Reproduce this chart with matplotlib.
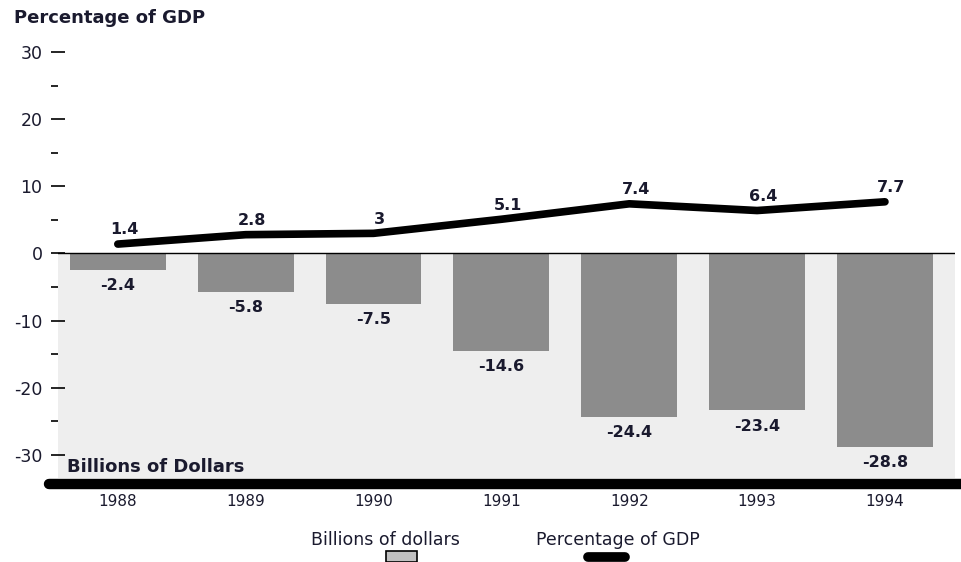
import matplotlib
matplotlib.use("Agg")
import matplotlib.pyplot as plt
from matplotlib.ticker import MultipleLocator

# data
years = ["1988", "1989", "1990", "1991", "1992", "1993", "1994"]
billions = [-2.4, -5.8, -7.5, -14.6, -24.4, -23.4, -28.8]
pct_gdp = [1.4, 2.8, 3, 5.1, 7.4, 6.4, 7.7]
pct_labels = ["1.4", "2.8", "3", "5.1", "7.4", "6.4", "7.7"]

plt.rcParams["font.family"] = ["DejaVu Sans"]
plt.rcParams["axes.unicode_minus"] = False
txt = "#1a1a2e"

fig = plt.figure(figsize=(9.62, 5.62), dpi=100)
ax = fig.add_axes([0.060, 0.149, 0.933, 0.794])

x = list(range(len(years)))
ax.set_xlim(-0.47, 6.55)
ax.set_ylim(-33.5, 33)

# grey panel below zero
ax.axhspan(-33.5, 0, color="#eeeeee", zorder=0)
ax.axhline(0, color="black", lw=1, zorder=3)

ax.bar(x, billions, width=0.75, color="#8c8c8c", zorder=2)
ax.plot(x, pct_gdp, color="black", lw=5.5, solid_capstyle="round", zorder=4)

for xi, v in zip(x, billions):
    ax.text(xi, v - 1.2, f"{v:g}", ha="center", va="top", fontsize=11.5,
            fontweight="bold", color=txt)
for xi, v, s in zip(x, pct_gdp, pct_labels):
    ax.text(xi + 0.05, v + 1.0, s, ha="center", va="bottom", fontsize=11.5,
            fontweight="bold", color=txt)

ax.text(-0.4, -31.8, "Billions of Dollars", ha="left", va="center",
        fontsize=13, fontweight="bold", color=txt)

for s in ax.spines.values():
    s.set_visible(False)

ax.yaxis.set_major_locator(MultipleLocator(10))
ax.yaxis.set_minor_locator(MultipleLocator(5))
ax.tick_params(axis="y", which="major", direction="inout", length=10, width=1.2,
               labelsize=12.5, labelcolor=txt, pad=6)
ax.tick_params(axis="y", which="minor", direction="out", length=5, width=1.2)
ax.set_xticks(x)
ax.set_xticklabels(years)
ax.tick_params(axis="x", length=0, labelsize=11, labelcolor=txt, pad=11)

# heavy black base bar under the plot
ax.plot([-0.01, 1.01], [-0.012, -0.012], transform=ax.transAxes, color="black",
        lw=7.5, solid_capstyle="round", clip_on=False, zorder=5)

fig.text(0.015, 0.968, "Percentage of GDP", ha="left", va="center",
         fontsize=13, fontweight="bold", color=txt)

# legend at the bottom
fig.text(0.401, 0.040, "Billions of dollars", ha="center", va="center",
         fontsize=12.5, color=txt)
fig.patches.append(plt.Rectangle((0.401, 0.0), 0.032, 0.019, transform=fig.transFigure,
                                 facecolor="#c0c0c0", edgecolor="black", lw=1.2))
fig.text(0.642, 0.040, "Percentage of GDP", ha="center", va="center",
         fontsize=12.5, color=txt)
fig.lines.append(plt.Line2D([0.611, 0.650], [0.009, 0.009], transform=fig.transFigure,
                            color="black", lw=7, solid_capstyle="round"))

fig.savefig("out.png", dpi=100)
